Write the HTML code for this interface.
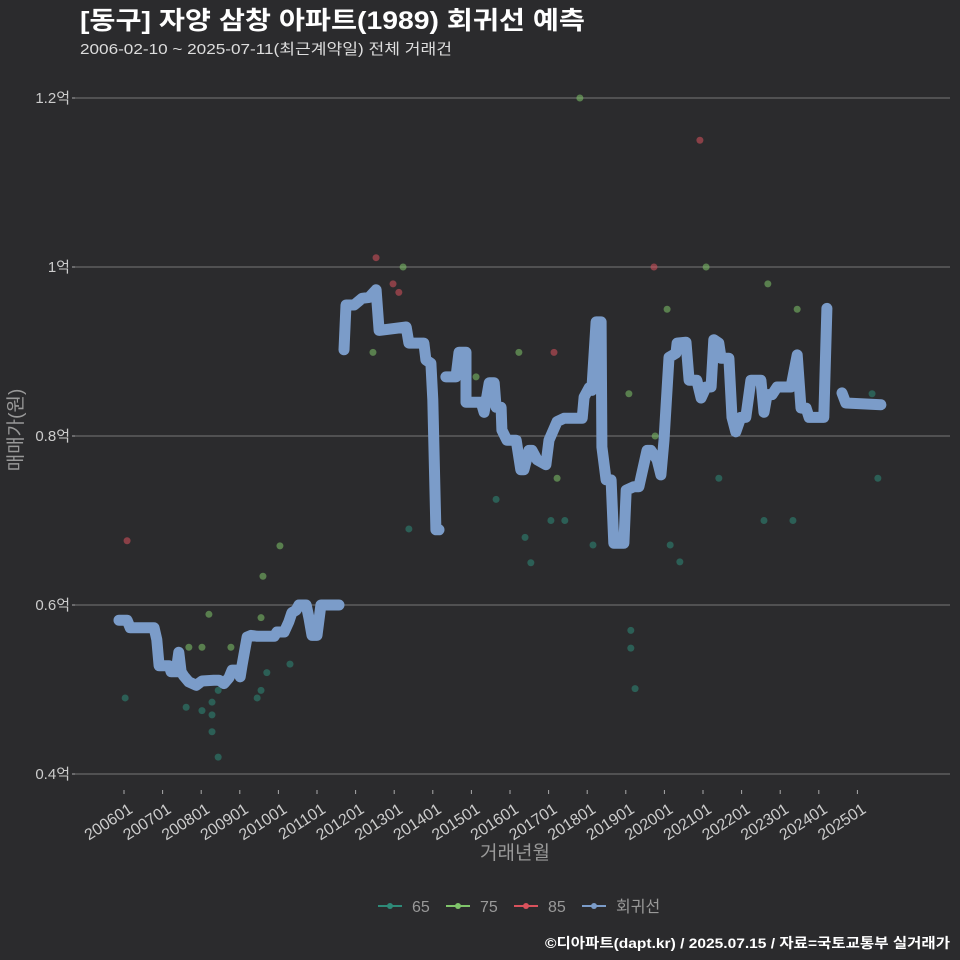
<!DOCTYPE html>
<html><head><meta charset="utf-8"><style>
body{margin:0;background:#2b2b2d;}
svg{display:block;font-family:"Liberation Sans","Noto Sans CJK KR",sans-serif;}
</style></head><body>
<svg id="chart" width="960" height="960" viewBox="0 0 960 960" xmlns="http://www.w3.org/2000/svg">
<rect width="960" height="960" fill="#2b2b2d"/>
<text x="80" y="29" fill="#ffffff" font-size="25" font-weight="bold" textLength="505" lengthAdjust="spacingAndGlyphs">[동구] 자양 삼창 아파트(1989) 회귀선 예측</text>
<text x="80" y="54" fill="#dddddd" font-size="15" textLength="372" lengthAdjust="spacingAndGlyphs">2006-02-10 ~ 2025-07-11(최근계약일) 전체 거래건</text>
<g id="grid"></g>
<g id="xaxis"></g>
<g id="points"></g>
<g id="line"></g>
<text x="515" y="859" fill="#999" font-size="19" text-anchor="middle">거래년월</text>
<text transform="translate(22,430) rotate(-90)" fill="#999" font-size="19" text-anchor="middle">매매가(원)</text>
<g id="legend"></g>
<text x="950" y="948" fill="#ffffff" font-size="14" font-weight="bold" text-anchor="end" textLength="405" lengthAdjust="spacingAndGlyphs">©디아파트(dapt.kr) / 2025.07.15 / 자료=국토교통부 실거래가</text>
</svg>
<script>
const yTicks=[0.4,0.6,0.8,1.0,1.2];
const yTickLabels=["0.4억","0.6억","0.8억","1억","1.2억"];
const xTickLabels=["200601","200701","200801","200901","201001","201101","201201","201301","201401","201501","201601","201701","201801","201901","202001","202101","202201","202301","202401","202501"];
const lineYears=[2005.87,2006.08,2006.16,2006.78,2006.85,2006.91,2007.17,2007.22,2007.35,2007.42,2007.48,2007.55,2007.68,2007.87,2008.02,2008.33,2008.46,2008.59,2008.72,2008.80,2008.93,2009.01,2009.06,2009.19,2009.29,2009.45,2009.89,2009.96,2010.15,2010.27,2010.35,2010.46,2010.53,2010.72,2010.79,2010.87,2011.0,2011.10,2011.57,null,
2011.70,2011.75,2011.96,2012.17,2012.35,2012.53,2012.61,2013.31,2013.38,2013.77,2013.82,2013.95,2014.0,2014.08,2014.16,null,
2014.34,2014.60,2014.68,2014.86,2014.86,2015.25,2015.33,2015.46,2015.59,2015.64,2015.77,2015.79,2015.92,2016.16,2016.28,2016.36,2016.49,2016.57,2016.70,2016.93,2017.01,2017.22,2017.40,2017.87,2017.92,2018.05,2018.12,2018.23,2018.36,2018.38,2018.49,2018.62,2018.69,2018.95,2019.01,2019.21,2019.34,2019.55,2019.65,2019.81,2019.91,2019.99,2020.12,2020.30,2020.33,2020.56,2020.64,2020.84,2020.95,2021.08,2021.21,2021.28,2021.41,2021.47,2021.67,2021.75,2021.85,2021.98,2022.11,2022.24,2022.50,2022.58,2022.66,2022.79,2022.92,2023.28,2023.44,2023.54,2023.67,2023.75,2024.13,2024.21,null,
2024.60,2024.70,2025.61];
const lineValues=[0.582,0.582,0.573,0.573,0.559,0.528,0.528,0.521,0.521,0.544,0.521,0.516,0.509,0.505,0.510,0.511,0.511,0.507,0.514,0.523,0.523,0.515,0.529,0.562,0.564,0.563,0.563,0.568,0.568,0.580,0.591,0.594,0.600,0.600,0.585,0.564,0.564,0.600,0.600,null,
0.902,0.955,0.955,0.963,0.964,0.973,0.925,0.929,0.910,0.910,0.890,0.886,0.843,0.689,0.689,null,
0.870,0.870,0.899,0.899,0.840,0.840,0.828,0.863,0.863,0.834,0.834,0.807,0.795,0.795,0.760,0.760,0.783,0.783,0.772,0.766,0.795,0.817,0.821,0.821,0.846,0.857,0.854,0.935,0.935,0.787,0.748,0.748,0.673,0.673,0.736,0.740,0.740,0.783,0.783,0.772,0.754,0.795,0.893,0.898,0.910,0.911,0.866,0.866,0.845,0.858,0.858,0.914,0.910,0.892,0.892,0.822,0.805,0.822,0.822,0.866,0.866,0.828,0.849,0.849,0.858,0.858,0.896,0.833,0.833,0.822,0.822,0.951,null,
0.851,0.839,0.837];
const s65Years=[2006.03,2007.61,2008.02,2008.28,2008.28,2008.28,2008.44,2008.44,2009.45,2009.55,2009.70,2010.30,2013.38,2015.64,2016.39,2016.54,2017.06,2017.42,2018.15,2019.13,2019.13,2019.24,2020.15,2020.40,2021.41,2022.58,2023.33,2025.38,2025.53];
const s65Values=[0.490,0.479,0.475,0.485,0.470,0.450,0.499,0.420,0.490,0.499,0.520,0.530,0.690,0.725,0.680,0.650,0.700,0.700,0.671,0.570,0.549,0.501,0.671,0.651,0.750,0.700,0.700,0.850,0.750];
const s75Years=[2007.68,2008.02,2008.20,2008.77,2009.55,2009.60,2010.04,2012.45,2013.23,2015.12,2016.23,2017.22,2017.81,2019.08,2019.76,2020.07,2021.08,2022.68,2023.44];
const s75Values=[0.550,0.550,0.589,0.550,0.585,0.634,0.670,0.899,1.000,0.870,0.899,0.750,1.200,0.850,0.800,0.950,1.000,0.980,0.950];
const s85Years=[2006.08,2012.53,2012.97,2013.12,2017.14,2019.73,2020.92];
const s85Values=[0.676,1.011,0.980,0.970,0.899,1.000,1.150];

const NS="http://www.w3.org/2000/svg";
const X=yr=>124+(yr-2006)*38.6;
const Y=v=>774-(v-0.4)*845;
function mk(tag,attrs,parent){const e=document.createElementNS(NS,tag);for(const k in attrs)e.setAttribute(k,attrs[k]);parent.appendChild(e);return e;}
const grid=document.getElementById('grid');
yTicks.forEach((t,i)=>{
  const l=mk('line',{x1:75,x2:950,y1:Y(t),y2:Y(t),stroke:'#777','stroke-width':1},grid);
  
  
  const tk=mk('line',{x1:72,x2:75,y1:Y(t),y2:Y(t),stroke:'#aaa'},grid);
  
  
  const tx=mk('text',{x:70,y:Y(t)+5,fill:'#cccccc','font-size':15,'text-anchor':'end'},grid);
  tx.textContent=yTickLabels[i];
  
  
});
const xa=document.getElementById('xaxis');
xTickLabels.forEach((lab,i)=>{
  const x=X(2006+i);
  const tk=mk('line',{x1:x,x2:x,y1:790,y2:794,stroke:'#aaa'},xa);
  
  
  const tx=mk('text',{transform:`translate(${x+4},803) rotate(-33)`,fill:'#cccccc','font-size':16,'text-anchor':'end','dominant-baseline':'hanging'},xa);
  tx.textContent=lab;
  
  
});
const pts=document.getElementById('points');
function scatter(ys,vs,col,name){
  ys.forEach((y,i)=>{
    const c=mk('circle',{cx:X(y),cy:Y(vs[i]),r:3.5,fill:col,'fill-opacity':0.55},pts);
    
    
  });
}
scatter(s65Years,s65Values,'#2e8a78','point-65');
scatter(s75Years,s75Values,'#7fc46a','point-75');
scatter(s85Years,s85Values,'#d9525c','point-85');
const lg=document.getElementById('line');
let d='',start=true;
lineYears.forEach((y,i)=>{
  if(y===null){start=true;return;}
  d+=(start?'M':'L')+X(y).toFixed(1)+','+Y(lineValues[i]).toFixed(1);
  start=false;
});
const p=mk('path',{d:d,fill:'none',stroke:'#7b9cc9','stroke-width':11,'stroke-linejoin':'round','stroke-linecap':'round'},lg);


const legend=document.getElementById('legend');
const legItems=[["65","#2e8a78",378],["75","#7fc46a",446],["85","#d9525c",514],["회귀선","#7b9cc9",582]];
legItems.forEach(it=>{
  const g=mk('g',{},legend);
  
  
  mk('line',{x1:it[2],x2:it[2]+24,y1:906,y2:906,stroke:it[1],'stroke-width':2},g);
  mk('circle',{cx:it[2]+12,cy:906,r:3,fill:it[1]},g);
  const t=mk('text',{x:it[2]+34,y:912,fill:'#999','font-size':16},g);
  t.textContent=it[0];
});
</script>
</body></html>
